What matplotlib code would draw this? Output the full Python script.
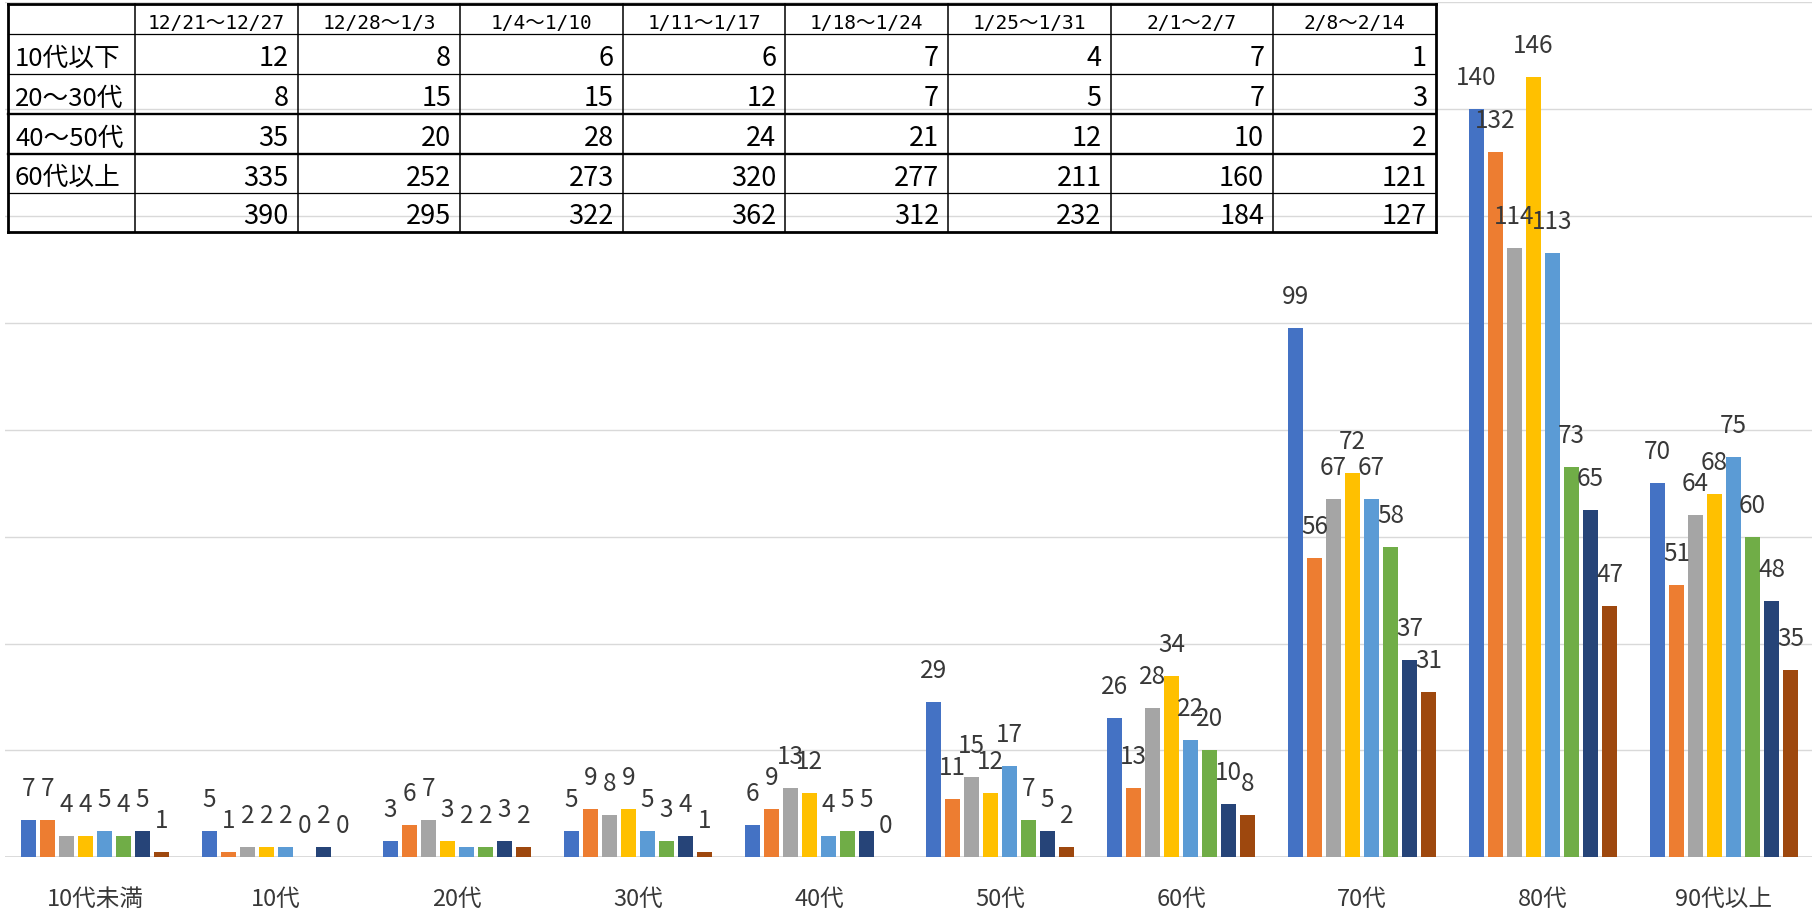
import matplotlib
matplotlib.use("Agg")
import matplotlib.pyplot as plt
import numpy as np

plt.rcParams["font.family"] = ["Noto Sans CJK JP", "DejaVu Sans"]

# ---- data -------------------------------------------------------------
age_groups = ["10代未満", "10代", "20代", "30代", "40代",
              "50代", "60代", "70代", "80代", "90代以上"]
weeks = ["12/21～12/27", "12/28～1/3", "1/4～1/10", "1/11～1/17",
         "1/18～1/24", "1/25～1/31", "2/1～2/7", "2/8～2/14"]

# weekly case counts per age group
wk_1221 = [7, 5, 3, 5, 6, 29, 26, 99, 140, 70]
wk_1228 = [7, 1, 6, 9, 9, 11, 13, 56, 132, 51]
wk_0104 = [4, 2, 7, 8, 13, 15, 28, 67, 114, 64]
wk_0111 = [4, 2, 3, 9, 12, 12, 34, 72, 146, 68]
wk_0118 = [5, 2, 2, 5, 4, 17, 22, 67, 113, 75]
wk_0125 = [4, 0, 2, 3, 5, 7, 20, 58, 73, 60]
wk_0201 = [5, 2, 3, 4, 5, 5, 10, 37, 65, 48]
wk_0208 = [1, 0, 2, 1, 0, 2, 8, 31, 47, 35]
series = [wk_1221, wk_1228, wk_0104, wk_0111, wk_0118, wk_0125, wk_0201, wk_0208]

colors = ["#4472C4", "#ED7D31", "#A5A5A5", "#FFC000",
          "#5B9BD5", "#70AD47", "#264478", "#9E480E"]

# summary table: broader age bands built from the groups above
table_rows = ["10代以下", "20～30代", "40～50代", "60代以上", ""]
band_members = [[0, 1], [2, 3], [4, 5], [6, 7, 8, 9], list(range(10))]
table_values = [[sum(s[i] for i in members) for s in series]
                for members in band_members]

# ---- figure -----------------------------------------------------------
W, H = 1812, 908
fig = plt.figure(figsize=(W / 100, H / 100), dpi=100)
ax = fig.add_axes([4.5 / W, 50.7 / H, 1810 / W, 855 / H])

x = np.arange(len(age_groups))
step = 0.105
bar_w = 0.083
text_col = "#383838"

for i, (vals, c) in enumerate(zip(series, colors)):
    xs = x + (i - (len(series) - 1) / 2) * step
    ax.bar(xs, vals, width=bar_w, color=c, zorder=2)
    for xi, v in zip(xs, vals):
        ax.annotate(str(v), (xi, v), xytext=(0, 24), textcoords="offset pixels",
                    ha="center", va="baseline", fontsize=17.5, color=text_col,
                    zorder=4)

ax.set_xlim(-0.5, len(age_groups) - 0.5)
ax.set_ylim(0, 160)
ax.set_yticks(np.arange(0, 161, 20))
ax.yaxis.grid(True, color="#D9D9D9", linewidth=1.0, zorder=0)
ax.set_axisbelow(True)
ax.axhline(0, color="#D9D9D9", linewidth=1.3, zorder=1)
ax.tick_params(axis="y", left=False, labelleft=False)
ax.set_xticks(x)
ax.set_xticklabels(age_groups, fontsize=17, color=text_col)
ax.tick_params(axis="x", bottom=False, pad=18.5)
for s in ax.spines.values():
    s.set_visible(False)

# ---- summary table (pixel coordinates) --------------------------------
tab = fig.add_axes([0, 0, 1, 1], zorder=5)
tab.set_xlim(0, W)
tab.set_ylim(H, 0)
tab.axis("off")
tab.patch.set_alpha(0)

col_x = [8] + [135 + 162.6 * k for k in range(len(weeks) + 1)]
row_y = [4, 34.3, 74, 114, 154, 193, 232]

# horizontal rules
for j, y in enumerate(row_y):
    if j in (0, len(row_y) - 1):
        lw = 2.0
    elif j in (3, 4):
        lw = 1.7
    else:
        lw = 0.9
    tab.plot([col_x[0], col_x[-1]], [y, y], color="black", lw=lw,
             solid_capstyle="projecting")
# vertical rules
for k, xv in enumerate(col_x):
    lw = 2.0 if k in (0, len(col_x) - 1) else 1.1
    tab.plot([xv, xv], [row_y[0], row_y[-1]], color="black", lw=lw,
             solid_capstyle="projecting")

# header
for k, w in enumerate(weeks):
    cx = (col_x[k + 1] + col_x[k + 2]) / 2
    tab.text(cx, row_y[1] - 5, w, ha="center", va="baseline", fontsize=14,
             family=["DejaVu Sans Mono", "Noto Sans CJK JP"], color="black")

# body
for r, (label, vals) in enumerate(zip(table_rows, table_values)):
    base = row_y[r + 2] - 7.5
    if label:
        tab.text(15, base - 1, label, ha="left", va="baseline", fontsize=18.5,
                 color="black")
    for k, v in enumerate(vals):
        tab.text(col_x[k + 2] - 9, base, str(v), ha="right", va="baseline",
                 fontsize=19.5, color="black")

fig.savefig("out.png", dpi=100)
